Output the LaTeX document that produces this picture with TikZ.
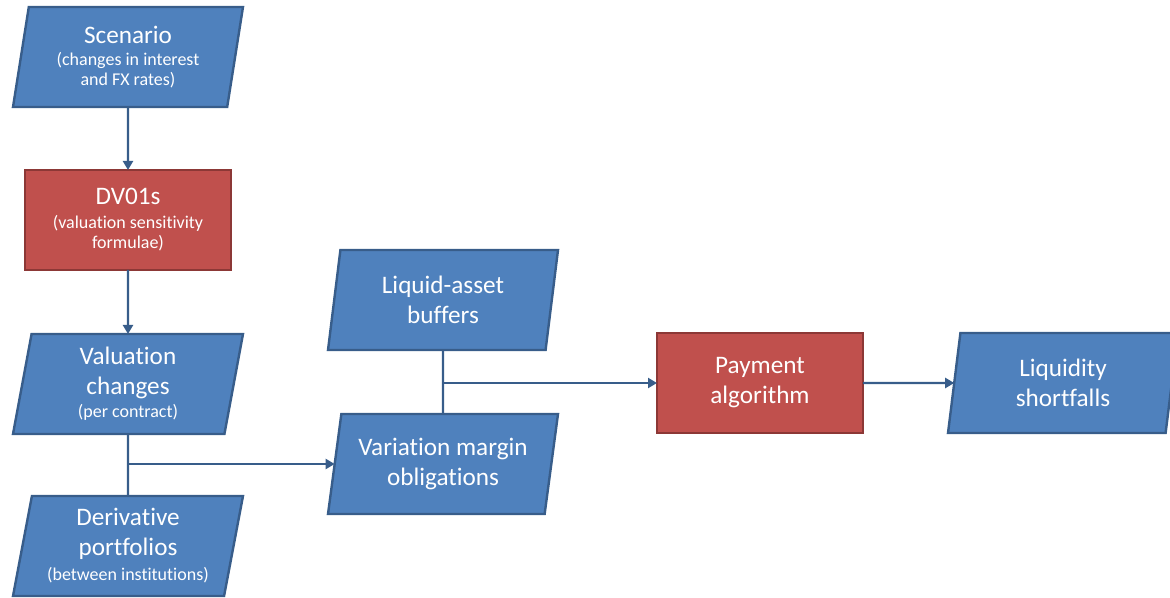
\documentclass[tikz,border=0pt]{standalone}
\usepackage{fontspec}
\setmainfont{Carlito}[Ligatures=NoCommon]
\usetikzlibrary{arrows.meta}
\usetikzlibrary{shapes.geometric}
\definecolor{boxblue}{HTML}{4F81BD}
\definecolor{lineblue}{HTML}{385D8A}
\definecolor{boxred}{HTML}{C0504D}
\definecolor{linered}{HTML}{8C3836}
\newcommand{\subt}{\fontsize{9}{10}\selectfont}
\tikzset{
  databox/.style={trapezium, trapezium left angle=76.5, trapezium right angle=103.5,
    trapezium stretches body, minimum width=115pt, minimum height=50pt,
    fill=boxblue, draw=lineblue, line width=1.2pt, text=white, align=center,
    inner sep=1pt, outer sep=0pt, font=\fontsize{12.6}{15}\selectfont},
  procbox/.style={rectangle, minimum width=103pt, minimum height=50pt,
    fill=boxred, draw=linered, line width=1.2pt, text=white, align=center,
    inner sep=1pt, outer sep=0pt, font=\fontsize{12.6}{15}\selectfont},
  link/.style={draw=lineblue, line width=1.1pt},
  arr/.style={link, -{Triangle[length=4.5pt,width=5pt]}}
}
\begin{document}
\begin{tikzpicture}[x=0.5pt,y=-0.5pt]
\useasboundingbox (0,0) rectangle (1170,598);
%%% left column
% input boxes
\node[databox] (scen) at (128,57) {Scenario\\[-4pt]\subt (changes in interest\\[-5pt]\subt and FX rates)};
\node[procbox] (dv) at (128,220) {DV01s\\[-3pt]\subt (valuation sensitivity\\[-5pt]\subt formulae)};
\node[databox] (valch) at (128,384) {Valuation\\changes\\[-3.5pt]\subt (per contract)};
\node[databox] (deriv) at (128,546) {Derivative\\portfolios\\[-2.5pt]\subt (between institutions)};
%%% middle column
\node[databox] (liqbuf) at (443,300) {Liquid-asset\\buffers};
\node[databox] (varmar) at (443,464) {Variation margin\\obligations};
%%% right part
\node[procbox] (payalg) at (760,383) {Payment\\algorithm};
\node[databox] (liqshort) at (1063,383) {Liquidity\\shortfalls};
% draws connectors
\draw[arr] (scen.south) -- (dv.north);
\draw[arr] (dv.south) -- (valch.north);
\draw[link] (valch.south) -- (deriv.north);
\draw[arr] (varmar.west -| valch.south) -- (varmar.west);
\draw[link] (liqbuf.south) -- (varmar.north);
\draw[arr] (payalg.west -| liqbuf.south) -- (payalg.west);
\draw[arr] (payalg.east) -- (liqshort.west);
\end{tikzpicture}
\end{document}
